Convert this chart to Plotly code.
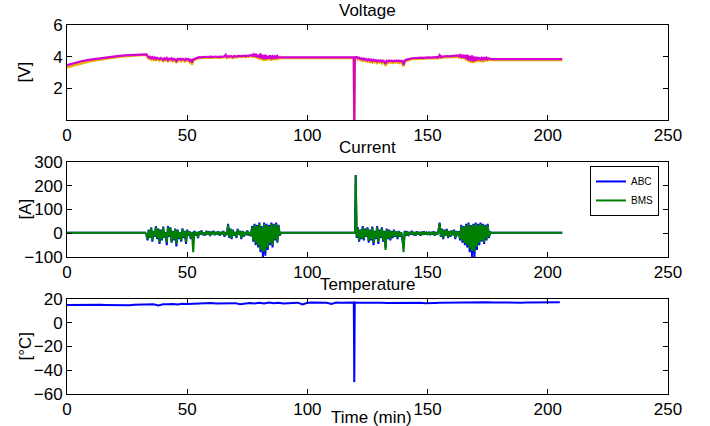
import numpy as np
import plotly.graph_objects as go
from plotly.subplots import make_subplots

# ---------------- data ----------------
# Voltage (two cell traces), time in minutes
v_curve_t = [0, 3, 6, 9, 12, 15, 18, 21, 24, 27, 30, 33]
v_mag_curve = [3.47, 3.6, 3.71, 3.8, 3.87, 3.94, 3.99, 4.04, 4.08, 4.11, 4.13, 4.15]
v_yel_curve = [3.33, 3.47, 3.6, 3.7, 3.78, 3.86, 3.92, 3.98, 4.03, 4.07, 4.1, 4.12]

v_seg1_t = list(np.arange(33.5, 89.0, 0.5))
v_mag_seg1 = [4.05, 3.95, 4.0, 3.9, 3.97, 3.88, 3.95, 3.86, 3.93, 3.9,
              3.84, 3.92, 3.88, 3.8, 3.9, 3.85, 3.92, 3.78, 3.88, 3.84,
              3.9, 3.8, 3.86, 3.82, 3.72, 3.86, 3.83, 3.88, 3.8, 3.86,
              3.84, 3.78, 3.87, 3.82, 3.85, 3.75, 3.84, 3.62, 3.83, 3.86,
              3.9, 3.93, 3.95, 3.97, 3.96, 3.98, 3.97, 3.99, 3.98, 3.99,
              4.0, 3.98, 3.99, 4.0, 3.98, 4.0, 3.99, 4.01, 3.98, 4.0,
              4.0, 3.99, 4.01, 4.0, 4.02, 4.12, 3.98, 4.03, 4.0, 4.04,
              4.02, 3.98, 4.04, 4.03, 4.0, 4.05, 4.02, 4.04, 4.03, 4.05,
              4.04, 4.06, 4.03, 4.07, 4.05, 4.08, 4.1, 4.06, 4.15, 4.02,
              4.18, 3.98, 4.12, 3.92, 4.2, 3.88, 4.1, 3.84, 4.12, 3.86,
              4.05, 3.9, 4.08, 3.85, 4.02, 3.92, 4.07, 3.88, 4.04, 3.95,
              3.96]
v_yel_seg1 = [3.98, 3.88, 3.93, 3.82, 3.9, 3.8, 3.88, 3.78, 3.86, 3.82,
              3.76, 3.85, 3.8, 3.72, 3.83, 3.77, 3.85, 3.68, 3.8, 3.76,
              3.83, 3.72, 3.79, 3.74, 3.62, 3.79, 3.75, 3.81, 3.72, 3.79,
              3.77, 3.7, 3.8, 3.74, 3.78, 3.66, 3.77, 3.5, 3.76, 3.8,
              3.84, 3.88, 3.9, 3.92, 3.91, 3.93, 3.92, 3.94, 3.93, 3.94,
              3.95, 3.93, 3.94, 3.95, 3.93, 3.95, 3.94, 3.96, 3.93, 3.95,
              3.95, 3.94, 3.96, 3.95, 3.97, 4.06, 3.92, 3.98, 3.95, 3.99,
              3.97, 3.92, 3.99, 3.98, 3.95, 4.0, 3.97, 3.99, 3.98, 4.0,
              3.99, 4.01, 3.98, 4.02, 4.0, 4.03, 4.05, 4.0, 4.09, 3.95,
              4.12, 3.9, 4.05, 3.83, 4.13, 3.78, 4.03, 3.74, 4.05, 3.76,
              3.98, 3.8, 4.01, 3.76, 3.95, 3.83, 4.0, 3.79, 3.97, 3.88,
              3.9]

v_mid_t = [89, 119.3, 119.5, 119.7, 120]
v_mag_mid = [3.95, 3.95, 0.0, 3.96, 3.97]
v_yel_mid = [3.91, 3.91, 0.0, 3.92, 3.93]

v_seg2_t = list(np.arange(120.5, 176.5, 0.5))
v_mag_seg2 = [3.98, 3.9, 3.94, 3.86, 3.9, 3.82, 3.88, 3.8, 3.86, 3.78,
              3.84, 3.76, 3.82, 3.72, 3.8, 3.74, 3.78, 3.7, 3.77, 3.72,
              3.76, 3.68, 3.75, 3.7, 3.55, 3.74, 3.7, 3.76, 3.72, 3.74,
              3.7, 3.75, 3.72, 3.76, 3.71, 3.75, 3.7, 3.74, 3.72, 3.5,
              3.76, 3.8, 3.83, 3.86, 3.87, 3.89, 3.9, 3.9, 3.91, 3.92,
              3.92, 3.93, 3.92, 3.93, 3.94, 3.93, 3.94, 3.94, 3.95, 3.94,
              3.95, 3.94, 3.95, 3.96, 3.95, 3.96, 3.95, 3.97, 3.96, 4.1,
              3.98, 4.02, 4.0, 4.03, 4.01, 4.04, 4.02, 4.05, 4.03, 4.04,
              4.05, 4.03, 4.06, 4.04, 4.08, 4.02, 4.1, 3.98, 4.12, 3.95,
              4.1, 3.85, 4.12, 3.78, 4.05, 3.72, 4.08, 3.7, 4.0, 3.75,
              3.98, 3.8, 3.95, 3.78, 3.92, 3.82, 3.96, 3.8, 3.93, 3.84,
              3.9, 3.86]
v_yel_seg2 = [3.93, 3.83, 3.87, 3.78, 3.83, 3.74, 3.81, 3.72, 3.78, 3.69,
              3.76, 3.67, 3.74, 3.63, 3.72, 3.65, 3.7, 3.6, 3.69, 3.63,
              3.68, 3.58, 3.67, 3.61, 3.42, 3.66, 3.61, 3.68, 3.63, 3.66,
              3.61, 3.67, 3.63, 3.68, 3.62, 3.67, 3.61, 3.66, 3.63, 3.38,
              3.68, 3.73, 3.77, 3.8, 3.82, 3.84, 3.85, 3.85, 3.86, 3.87,
              3.87, 3.88, 3.87, 3.88, 3.89, 3.88, 3.89, 3.89, 3.9, 3.89,
              3.9, 3.89, 3.9, 3.91, 3.9, 3.91, 3.9, 3.92, 3.91, 4.04,
              3.92, 3.96, 3.94, 3.97, 3.95, 3.98, 3.96, 3.99, 3.97, 3.98,
              3.99, 3.97, 4.0, 3.98, 4.02, 3.95, 4.04, 3.9, 4.06, 3.87,
              4.03, 3.76, 4.05, 3.68, 3.97, 3.62, 4.0, 3.6, 3.91, 3.66,
              3.9, 3.7, 3.87, 3.68, 3.84, 3.73, 3.88, 3.71, 3.85, 3.76,
              3.82, 3.8]

v_end_t = [176.5, 206]
v_mag_end = [3.84, 3.84]
v_yel_end = [3.79, 3.79]

# Current [A]
i_start_t = [0, 32.5]
i_abc_start = [2, 2]
i_bms_start = [2, 2]

i_seg1_t = list(np.arange(33.0, 89.0, 0.5))
i_abc_seg1 = [-5, -30, 15, -20, 25, -35, 10, -15, 30, -25,
              20, -45, 15, -30, 28, -20, 5, -50, 30, -15,
              25, -40, 10, -30, 20, -55, 15, -25, 5, -35,
              20, -20, 10, -45, 15, -10, 8, -25, 5, -15,
              10, -10, 5, -20, 8, -5, 12, -8, 3, -10,
              10, -5, 8, -12, 5, -3, 10, -8, 5, -5,
              8, -10, 5, -5, 10, -15, 5, -8, 40, -20,
              20, -25, 15, -10, 5, -20, 18, -5, 10, -25,
              10, -15, 5, -8, 12, -10, 5, -12, 30, -35,
              40, -50, 35, -60, 45, -80, 30, -100, 45, -95,
              40, -70, 35, -50, 45, -60, 40, -30, 45, -40,
              35, -10]
i_bms_seg1 = [-3, -25, 12, -18, 22, -30, 8, -12, 28, -20,
              18, -38, 12, -25, 25, -18, 4, -40, 26, -12,
              22, -35, 8, -25, 18, -45, 12, -20, 4, -30,
              18, -15, 8, -38, 12, -8, 6, -20, 4, -80,
              8, -8, 4, -16, 6, -4, 10, -6, 2, -8,
              8, -4, 6, -10, 4, -2, 8, -6, 4, -4,
              6, -8, 4, -4, 8, -12, 4, -6, 35, -15,
              16, -20, 12, -8, 4, -16, 15, -4, 8, -20,
              8, -12, 4, -6, 10, -8, 4, -10, 25, -30,
              35, -42, 30, -52, 40, -70, 26, -78, 40, -75,
              35, -60, 30, -42, 40, -50, 35, -25, 40, -35,
              30, -8]

i_mid_t = [89, 119.8, 120.1]
i_abc_mid = [2, 2, 245]
i_bms_mid = [2, 2, 245]

i_seg2_t = list(np.arange(120.5, 176.5, 0.5))
i_abc_seg2 = [-20, 25, -35, 15, -25, 30, -30, 20, -15, 25,
              -40, 15, -30, 28, -50, 10, -25, 30, -45, 15,
              -20, 25, -35, 10, -60, 20, -25, 15, -30, 10,
              -20, 15, -15, 8, -25, 10, -15, 5, -20, -60,
              10, -10, 8, -12, 5, -5, 10, -8, 5, -10,
              8, -5, 5, -10, 6, -4, 8, -6, 4, -5,
              6, -8, 5, -5, 8, -10, 5, -6, 10, 45,
              -15, 20, -25, 15, -10, 18, -20, 10, -15, 12,
              -8, 15, -25, 10, -12, 8, -30, 35, -40, 30,
              -50, 40, -60, 45, -80, 35, -100, 40, -100, 45,
              -70, 40, -50, 45, -35, 40, -45, 35, -30, 40,
              -20, 5]
i_bms_seg2 = [-15, 20, -30, 12, -20, 25, -25, 16, -12, 22,
              -32, 12, -25, 24, -40, 8, -20, 26, -38, 12,
              -16, 20, -30, 8, -70, 16, -20, 12, -25, 8,
              -16, 12, -12, 6, -20, 8, -12, 4, -16, -80,
              8, -8, 6, -10, 4, -4, 8, -6, 4, -8,
              6, -4, 4, -8, 5, -3, 6, -5, 3, -4,
              5, -6, 4, -4, 6, -8, 4, -5, 8, 42,
              -12, 16, -20, 12, -8, 15, -16, 8, -12, 10,
              -6, 12, -20, 8, -10, 6, -25, 30, -32, 26,
              -42, 35, -50, 40, -65, 30, -75, 35, -78, 40,
              -58, 35, -42, 40, -30, 35, -38, 30, -25, 35,
              -15, 4]

i_end_t = [176.5, 206]
i_abc_end = [2, 2]
i_bms_end = [2, 2]

# Temperature [°C]
temp_t1 = list(range(0, 120, 2))
temp_1 = [14.9, 15.0, 14.8, 15.1, 14.9, 15.0, 14.9, 15.1, 15.0, 14.9,
          15.0, 15.1, 15.0, 14.8, 15.1, 15.2, 15.0, 15.4, 15.5, 14.6,
          15.6, 15.5, 15.8, 15.3, 15.9, 15.7, 16.0, 15.8, 16.1, 16.3,
          16.6, 16.2, 16.4, 16.0, 16.2, 16.5, 15.6, 16.4, 16.6, 16.3,
          16.8, 16.2, 17.0, 16.5, 16.9, 16.2, 16.6, 16.8, 16.9, 15.4,
          16.8, 17.0, 16.9, 17.0, 16.8, 15.8, 17.0, 16.8, 16.9, 17.0]
temp_spike_t = [119.3, 119.5, 119.7]
temp_spike = [17.0, -50, 17.0]
temp_t2 = list(range(121, 206, 2))
temp_2 = [16.9, 17.0, 16.8, 16.9, 16.8, 16.9, 16.7, 16.8, 16.6, 16.8,
          16.7, 16.8, 16.9, 16.8, 16.5, 16.9, 16.7, 16.8, 16.9, 16.6,
          16.9, 16.7, 17.1, 16.8, 17.3, 17.0, 17.4, 17.2, 17.0, 16.9,
          16.8, 16.9, 16.8, 17.0, 16.9, 17.0, 17.1, 17.0, 17.1, 17.2,
          17.1, 17.2, 17.3]

x_ticks = [0, 50, 100, 150, 200, 250]
v_ticks = [2, 4, 6]
i_ticks = [-100, 0, 100, 200, 300]
t_ticks = [-60, -40, -20, 0, 20]

# ---------------- figure ----------------
FONT = "Liberation Sans, Arial, Helvetica, sans-serif"
FS = 17

fig = make_subplots(rows=3, cols=1, shared_xaxes=False, vertical_spacing=0.05)

v_t = v_curve_t + v_seg1_t + v_mid_t + v_seg2_t + v_end_t
v_yel = v_yel_curve + v_yel_seg1 + v_yel_mid + v_yel_seg2 + v_yel_end
v_mag = v_mag_curve + v_mag_seg1 + v_mag_mid + v_mag_seg2 + v_mag_end

fig.add_trace(go.Scatter(x=v_t, y=v_yel, mode="lines", line=dict(color="#e8b400", width=2.5),
                         showlegend=False), row=1, col=1)
fig.add_trace(go.Scatter(x=v_t, y=v_mag, mode="lines", line=dict(color="#d400d4", width=2.2),
                         showlegend=False), row=1, col=1)

i_t = i_start_t + i_seg1_t + i_mid_t + i_seg2_t + i_end_t
i_abc = i_abc_start + i_abc_seg1 + i_abc_mid + i_abc_seg2 + i_abc_end
i_bms = i_bms_start + i_bms_seg1 + i_bms_mid + i_bms_seg2 + i_bms_end

fig.add_trace(go.Scatter(x=i_t, y=i_abc, mode="lines", name="ABC",
                         line=dict(color="#0000ff", width=2)), row=2, col=1)
fig.add_trace(go.Scatter(x=i_t, y=i_bms, mode="lines", name="BMS",
                         line=dict(color="#008000", width=2)), row=2, col=1)

tt = temp_t1 + temp_spike_t + temp_t2
tv = temp_1 + temp_spike + temp_2
fig.add_trace(go.Scatter(x=tt, y=tv, mode="lines", line=dict(color="#0000ff", width=2),
                         showlegend=False), row=3, col=1)

axis_common = dict(showline=True, linecolor="black", linewidth=1, mirror="ticks",
                   ticks="inside", ticklen=5, tickcolor="black", showgrid=False,
                   zeroline=False, automargin=False,
                   tickfont=dict(family=FONT, size=FS, color="black"))

domains = [[0.7425, 1.0], [0.3713, 0.6287], [0.0, 0.2575]]
yranges = [[0, 6], [-100, 300], [-60, 20]]
yticks = [v_ticks, i_ticks, t_ticks]
ylabels = ["[V]", "[A]", "[°C]"]
titles = ["Voltage", "Current", "Temperature"]
for k in range(3):
    xa = "xaxis" if k == 0 else f"xaxis{k+1}"
    ya = "yaxis" if k == 0 else f"yaxis{k+1}"
    fig.layout[xa].update(range=[0, 250], tickvals=x_ticks, **axis_common)
    fig.layout[ya].update(range=yranges[k], tickvals=yticks[k], domain=domains[k],
                          **axis_common)
    fig.add_annotation(text=ylabels[k], x=0, xref="paper", xshift=-42,
                       y=(domains[k][0] + domains[k][1]) / 2, yref="paper",
                       textangle=-90, showarrow=False, xanchor="center", yanchor="middle",
                       font=dict(family=FONT, size=FS, color="black"))
    fig.add_annotation(text=titles[k], x=0.5, xref="paper", y=domains[k][1], yref="paper",
                       yanchor="bottom", showarrow=False, yshift=3,
                       font=dict(family=FONT, size=FS, color="black"))

fig.add_annotation(text="Time (min)", x=0.507, xref="paper", y=0, yref="paper",
                   yanchor="top", xanchor="center", showarrow=False, yshift=-12,
                   font=dict(family=FONT, size=FS, color="black"))

fig.update_layout(
    width=710, height=426,
    margin=dict(l=67, r=42, t=25, b=32),
    paper_bgcolor="white", plot_bgcolor="white",
    font=dict(family=FONT, size=FS, color="black"),
    legend=dict(x=0.985, y=0.618, xanchor="right", yanchor="top",
                bgcolor="white", bordercolor="black", borderwidth=1,
                font=dict(family=FONT, size=10, color="black"),
                tracegroupgap=0, itemwidth=30),
)

# remove the default page margin so the 710x426 figure fills the window exactly
fig.write_html("out.html", config={"displayModeBar": False},
               post_script="document.body.style.margin='0';document.body.style.overflow='hidden';")
